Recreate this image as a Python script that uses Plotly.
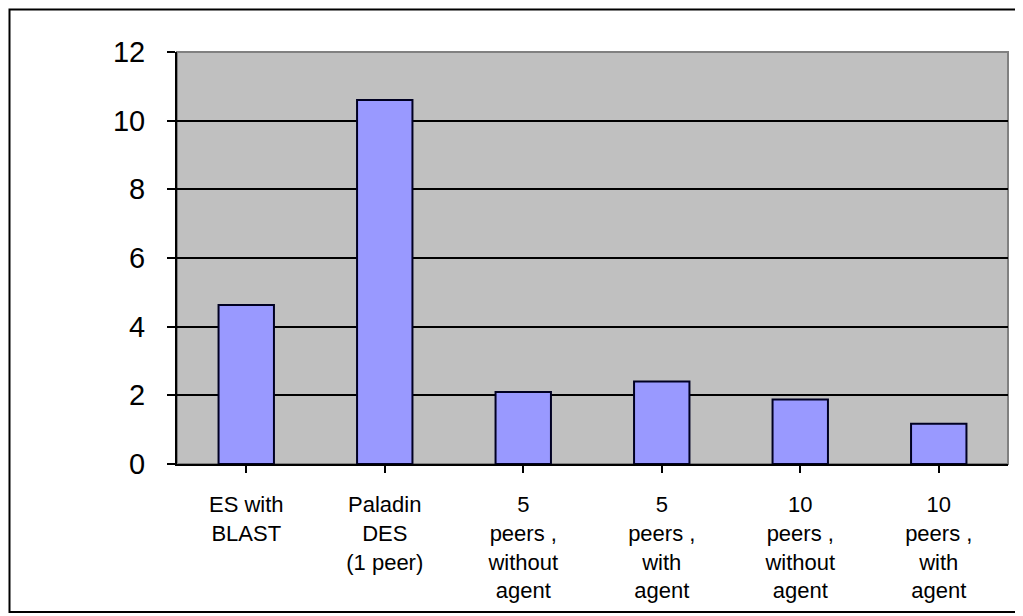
import plotly.graph_objects as go

categories = ["ES with<br>BLAST", "Paladin<br>DES<br>(1 peer)", "5<br>peers ,<br>without<br>agent",
              "5<br>peers ,<br>with<br>agent", "10<br>peers ,<br>without<br>agent", "10<br>peers ,<br>with<br>agent"]
values = [4.63, 10.6, 2.1, 2.4, 1.88, 1.17]
y_ticks = [0, 2, 4, 6, 8, 10, 12]

# page body has an 8px margin; lay the figure out in its own coordinates
OFF = 8
W, H = 1023 - OFF, 616 - OFF
L, R, T, B = 177 - OFF, 15, 52 - OFF, 152
pw, ph = W - L - R, H - T - B

def px_x(p):
    return (p - OFF - L) / pw

def px_y(p):
    return (H - B - (p - OFF)) / ph

fig = go.Figure()
fig.add_trace(go.Bar(
    x=list(range(len(categories))), y=values,
    marker=dict(color="#9999FF", line=dict(color="#000022", width=2)),
    width=0.4,
))

font = "Arial, Liberation Sans, sans-serif"
fig.update_layout(
    width=W, height=H,
    margin=dict(l=L, r=R, t=T, b=B, autoexpand=False),
    paper_bgcolor="white",
    plot_bgcolor="#C0C0C0",
    showlegend=False,
    bargap=0.6,
    font=dict(family=font, color="black"),
    xaxis=dict(
        tickmode="array", tickvals=list(range(len(categories))), ticktext=categories,
        range=[-0.5, len(categories) - 0.5],
        tickson="boundaries", ticks="outside", ticklen=7, tickcolor="black", tickwidth=2,
        showline=True, linecolor="black", linewidth=2,
        showgrid=False, zeroline=False,
        tickfont=dict(size=22, family=font, color="black"),
        ticklabelstandoff=13,
    ),
    yaxis=dict(
        range=[0, 12], tickvals=y_ticks,
        ticks="outside", ticklen=8, tickcolor="black", tickwidth=2,
        showline=True, linecolor="black", linewidth=2,
        showgrid=True, gridcolor="black", gridwidth=1.5,
        zeroline=False,
        tickfont=dict(size=29, family=font, color="black"),
        ticklabelstandoff=16,
    ),
    shapes=[
        dict(type="rect", xref="paper", yref="paper", x0=0, x1=1, y0=0, y1=1,
             line=dict(color="#808080", width=2), layer="below"),
        dict(type="rect", xref="paper", yref="paper",
             x0=px_x(9.5), x1=px_x(1040), y0=px_y(612), y1=px_y(9.5),
             line=dict(color="black", width=2)),
    ],
)

fig.write_html("out.html")
